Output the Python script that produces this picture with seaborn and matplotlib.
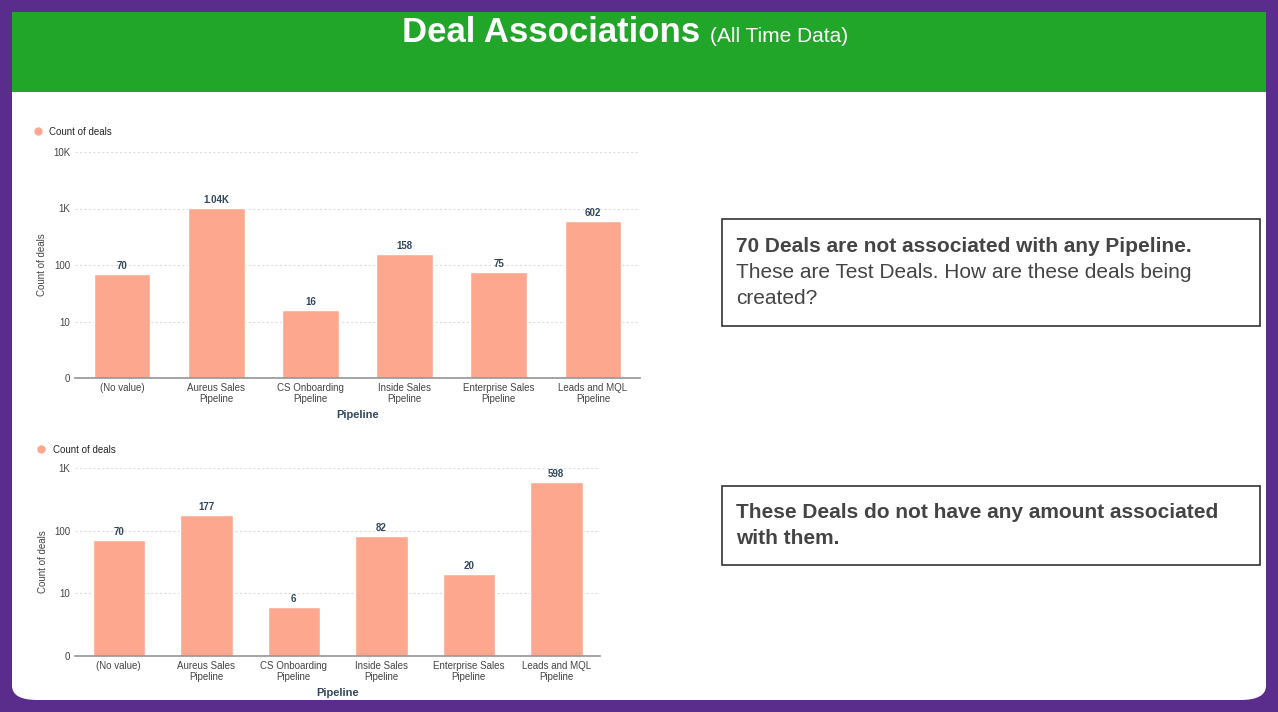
import seaborn as sns
import pandas as pd
import matplotlib.pyplot as plt
from matplotlib.patches import FancyBboxPatch, Rectangle
import matplotlib.ticker as mtick

sns.set_theme(style="white")
plt.rcParams["font.family"] = "Liberation Sans"

pipelines = ["(No value)", "Aureus Sales\nPipeline", "CS Onboarding\nPipeline",
             "Inside Sales\nPipeline", "Enterprise Sales\nPipeline", "Leads and MQL\nPipeline"]
all_deals = [70, 1040, 16, 158, 75, 602]
all_labels = ["70", "1.04K", "16", "158", "75", "602"]
no_amount = [70, 177, 6, 82, 20, 598]
no_amount_labels = ["70", "177", "6", "82", "20", "598"]

W, H = 1278, 712
BAR = "#FDA88E"
NAVY = "#33475b"

fig = plt.figure(figsize=(W / 100, H / 100), dpi=100)
fig.patch.set_facecolor("#5a2d8c")
fig.patches.append(FancyBboxPatch((12 / W, 12 / H), 1254 / W, 688 / H,
                                  boxstyle="round,pad=0,rounding_size=0.02",
                                  transform=fig.transFigure, fc="white", ec="none",
                                  zorder=-10))
fig.patches.append(Rectangle((12 / W, 1 - 92 / H), 1254 / W, 80 / H,
                             transform=fig.transFigure, fc="#22a62a", ec="none",
                             zorder=-9))
fig.text(700 / W, 1 - 33 / H, "Deal Associations", color="white", fontsize=25,
         fontweight="bold", ha="right", va="center")
fig.text(710 / W, 1 - 37 / H, "(All Time Data)", color="white", fontsize=15,
         ha="left", va="center")


def bar_chart(rect, values, labels, top):
    ax = fig.add_axes(rect)
    ax.patch.set_alpha(0)
    df = pd.DataFrame({"Pipeline": pipelines, "Count of deals": values})
    sns.barplot(data=df, x="Pipeline", y="Count of deals", color=BAR, width=0.6,
                saturation=1, ax=ax)
    ax.set_yscale("log")
    ax.set_ylim(1, top)
    ticks = [10 ** i for i in range(len(str(top)))]
    ax.yaxis.set_major_locator(mtick.FixedLocator(ticks))
    ax.yaxis.set_minor_locator(mtick.NullLocator())
    names = {1: "0", 10: "10", 100: "100", 1000: "1K", 10000: "10K"}
    ax.set_yticklabels([names[t] for t in ticks])
    ax.grid(axis="y", color="#dddddd", linestyle=(0, (2, 2)), linewidth=0.8)
    ax.set_axisbelow(True)
    for s in ["top", "right", "left"]:
        ax.spines[s].set_visible(False)
    ax.spines["bottom"].set_color("#999999")
    ax.tick_params(axis="both", labelsize=7, colors="#444444", length=0)
    ax.set_xlabel("Pipeline", fontsize=8, fontweight="bold", color=NAVY)
    ax.set_ylabel("Count of deals", fontsize=7, color="#444444")
    for i, (v, lab) in enumerate(zip(values, labels)):
        ax.text(i, v * 1.12, lab, ha="center", va="bottom", fontsize=7,
                fontweight="bold", color=NAVY)
    ax.legend([plt.Line2D([], [], marker="o", ls="", color=BAR, ms=5)], ["Count of deals"],
              loc="lower left", bbox_to_anchor=(-0.09, 1.05), frameon=False,
              fontsize=7, handletextpad=0.2, borderaxespad=0)
    return ax


bar_chart([75 / W, 1 - 378 / H, 565 / W, 226 / H], all_deals, all_labels, 10000)
bar_chart([75 / W, 1 - 656 / H, 525 / W, 188 / H], no_amount, no_amount_labels, 1000)


def note(y0, y1, parts):
    fig.patches.append(Rectangle((722 / W, 1 - y1 / H), 538 / W, (y1 - y0) / H,
                                 transform=fig.transFigure, fc="none", ec="#333333", lw=1.2))
    for y, txt, bold in parts:
        fig.text(736 / W, 1 - y / H, txt, fontsize=15, color="#444444",
                 fontweight="bold" if bold else "normal", va="center")


note(219, 326, [(246, "70 Deals are not associated with any Pipeline.", True),
                (273, "These are Test Deals. How are these deals being", False),
                (299, "created?", False)])
note(486, 565, [(512, "These Deals do not have any amount associated", True),
                (539, "with them.", True)])

fig.savefig("out.png", dpi=100, facecolor=fig.get_facecolor())
